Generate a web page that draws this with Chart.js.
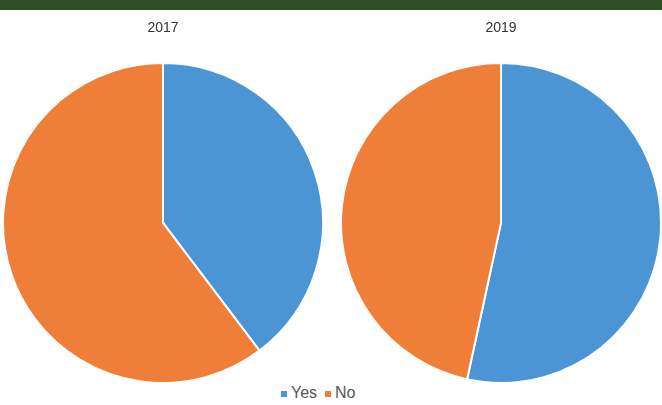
<!DOCTYPE html>
<html>
<head>
<meta charset="utf-8">
<script src="https://cdn.jsdelivr.net/npm/chart.js@4/dist/chart.umd.min.js"></script>
<style>
  html, body { margin: 0; padding: 0; background: #fff; }
  #wrap { position: relative; width: 662px; height: 405px; overflow: hidden; background: #fff; font-family: "Liberation Sans", Arial, sans-serif; }
  #bar { position: absolute; left: 0; top: 0; width: 662px; height: 10px; background: #2f4d22; }
  .pie { position: absolute; top: 10px; width: 322px; height: 374px; }
  #legend { position: absolute; top: 384px; left: 0; width: 662px; height: 20px; font-size: 16px; color: #555; }
  .sw { position: absolute; top: 7px; width: 6px; height: 6px; }
  .lt { position: absolute; top: 0px; }
</style>
</head>
<body>
<div id="wrap">
  <div id="bar"></div>
  <div class="pie" style="left:2px"><canvas id="c1" width="322" height="374"></canvas></div>
  <div class="pie" style="left:340px"><canvas id="c2" width="322" height="374"></canvas></div>
  <div id="legend">
    <span class="sw" style="left:281px;background:#4b95d4"></span><span class="lt" style="left:291px">Yes</span>
    <span class="sw" style="left:325px;background:#ee7e38"></span><span class="lt" style="left:335px">No</span>
  </div>
</div>
<script>
const categories = ["Yes", "No"];
const titles = ["2017", "2019"];
const values2017 = [39.7, 60.3];
const values2019 = [53.4, 46.6];
const colors = ["#4b95d4", "#ee7e38"];

function makePie(id, title, values) {
  new Chart(document.getElementById(id), {
    type: 'pie',
    data: {
      labels: categories,
      datasets: [{
        data: values,
        backgroundColor: colors,
        borderColor: '#ffffff',
        borderWidth: 2
      }]
    },
    options: {
      responsive: false,
      animation: false,
      layout: { padding: 0 },
      plugins: {
        legend: { display: false },
        tooltip: { enabled: false },
        title: {
          display: true,
          text: title,
          color: '#333',
          font: { family: '"Liberation Sans", Arial, sans-serif', size: 14, weight: 'normal' },
          padding: { top: 10, bottom: 25 }
        }
      }
    }
  });
}
makePie('c1', titles[0], values2017);
makePie('c2', titles[1], values2019);
</script>
</body>
</html>
